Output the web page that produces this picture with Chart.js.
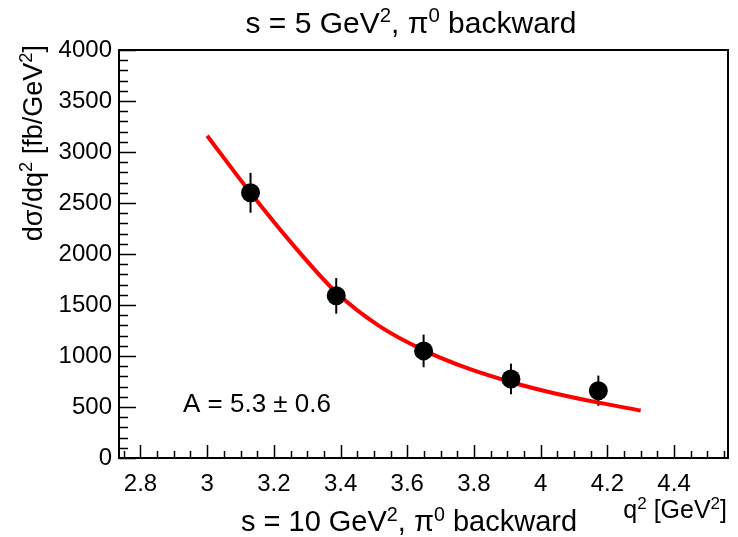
<!DOCTYPE html>
<html>
<head>
<meta charset="utf-8">
<script src="https://cdn.jsdelivr.net/npm/chart.js@4/dist/chart.umd.min.js"></script>
<style>
  html, body { margin: 0; padding: 0; background: #ffffff; }
  #wrap { width: 738px; height: 537px; }
</style>
</head>
<body>
<div id="wrap"><canvas id="c" width="738" height="537"></canvas></div>
<script>
// ---- data ----
const xTickValues = [2.8, 3, 3.2, 3.4, 3.6, 3.8, 4, 4.2, 4.4];
const xTickLabels = ['2.8', '3', '3.2', '3.4', '3.6', '3.8', '4', '4.2', '4.4'];
const yTickValues = [0, 500, 1000, 1500, 2000, 2500, 3000, 3500, 4000];
const yTickLabels = ['0', '500', '1000', '1500', '2000', '2500', '3000', '3500', '4000'];

const q2Points = [3.13, 3.387, 3.649, 3.911, 4.173];
const dsigmaPoints = [2600, 1590, 1050, 775, 660];
const dsigmaErrors = [195, 175, 160, 150, 148];

const fitQ2 = [3.0, 3.13, 3.26, 3.39, 3.52, 3.65, 3.78, 3.91, 4.04, 4.17, 4.3];
const fitValues = [3160, 2600, 2080, 1615, 1285, 1055, 880, 745, 635, 545, 465];

const xMin = 2.7356, xMax = 4.5618;
const yMin = 0, yMax = 4000;

const FONT = '"Liberation Sans", Arial, Helvetica, sans-serif';

function drawRich(ctx, parts, x, y, size, align) {
  const supSize = size * 0.68;
  let total = 0;
  const widths = parts.map(p => {
    ctx.font = (p.sup ? supSize : size) + 'px ' + FONT;
    const w = ctx.measureText(p.t).width;
    total += w;
    return w;
  });
  let cx = x;
  if (align === 'center') cx = x - total / 2;
  else if (align === 'right') cx = x - total;
  ctx.textAlign = 'left';
  ctx.textBaseline = 'alphabetic';
  parts.forEach((p, i) => {
    ctx.font = (p.sup ? supSize : size) + 'px ' + FONT;
    ctx.fillText(p.t, cx, p.sup ? y - size * 0.36 : y);
    cx += widths[i];
  });
}

const decorPlugin = {
  id: 'decor',
  beforeDatasetsDraw(chart) {
    const ctx = chart.ctx;
    const xs = chart.scales.x, ys = chart.scales.y;
    ctx.save();
    ctx.strokeStyle = '#000';
    ctx.lineWidth = 2;
    for (let i = 0; i < q2Points.length; i++) {
      const px = xs.getPixelForValue(q2Points[i]);
      ctx.beginPath();
      ctx.moveTo(px, ys.getPixelForValue(dsigmaPoints[i] - dsigmaErrors[i]));
      ctx.lineTo(px, ys.getPixelForValue(dsigmaPoints[i] + dsigmaErrors[i]));
      ctx.stroke();
    }
    ctx.restore();
  },
  afterDraw(chart) {
    const ctx = chart.ctx;
    const a = chart.chartArea;
    const xs = chart.scales.x, ys = chart.scales.y;
    ctx.save();
    // inward tick marks
    ctx.strokeStyle = '#000';
    ctx.lineWidth = 1.5;
    ctx.beginPath();
    for (let k = 0; k <= 40; k++) {
      const v = k * 100;
      const py = Math.round(ys.getPixelForValue(v)) + 0.5;
      const len = (k % 5 === 0) ? 17 : 9;
      ctx.moveTo(a.left, py);
      ctx.lineTo(a.left + len, py);
    }
    for (let k = 55; k <= 91; k++) {
      const v = k * 0.05;
      if (v < xMin || v > xMax) continue;
      const px = Math.round(xs.getPixelForValue(v)) + 0.5;
      const len = (k % 4 === 0) ? 13 : 7;
      ctx.moveTo(px, a.bottom);
      ctx.lineTo(px, a.bottom - len);
    }
    ctx.stroke();
    // frame
    ctx.lineWidth = 2;
    ctx.strokeRect(a.left, a.top, a.right - a.left, a.bottom - a.top);

    ctx.fillStyle = '#000';
    // title
    drawRich(ctx, [{t: 's = 5 GeV'}, {t: '2', sup: true}, {t: ', π'}, {t: '0', sup: true}, {t: ' backward'}], 411, 33, 30, 'center');
    // bottom label
    drawRich(ctx, [{t: 's = 10 GeV'}, {t: '2', sup: true}, {t: ', π'}, {t: '0', sup: true}, {t: ' backward'}], 409, 531, 29, 'center');
    // x axis title
    drawRich(ctx, [{t: 'q'}, {t: '2', sup: true}, {t: ' [GeV'}, {t: '2', sup: true}, {t: ']'}], 727, 518, 25, 'right');
    // annotation
    drawRich(ctx, [{t: 'A = 5.3 ± 0.6'}], 183, 412, 26, 'left');
    // y axis title (rotated)
    ctx.translate(42, 45);
    ctx.rotate(-Math.PI / 2);
    drawRich(ctx, [{t: 'dσ/dq'}, {t: '2', sup: true}, {t: ' [fb/GeV'}, {t: '2', sup: true}, {t: ']'}], 0, 0, 27, 'right');
    ctx.restore();
  }
};

new Chart(document.getElementById('c'), {
  type: 'scatter',
  data: {
    datasets: [
      {
        label: 'data',
        data: q2Points.map((x, i) => ({x: x, y: dsigmaPoints[i]})),
        pointRadius: 9.5,
        pointBackgroundColor: '#000',
        pointBorderWidth: 0,
        showLine: false
      },
      {
        label: 'fit',
        data: fitQ2.map((x, i) => ({x: x, y: fitValues[i]})),
        showLine: true,
        borderColor: '#ff0000',
        borderWidth: 4,
        pointRadius: 0,
        cubicInterpolationMode: 'monotone',
        fill: false
      }
    ]
  },
  options: {
    responsive: false,
    animation: false,
    devicePixelRatio: 1,
    layout: { padding: { left: 0, right: 10, top: 50, bottom: 0 } },
    plugins: { legend: { display: false }, tooltip: { enabled: false } },
    scales: {
      x: {
        type: 'linear',
        min: xMin, max: xMax,
        grid: { display: false, drawTicks: false },
        border: { display: false },
        afterBuildTicks: s => { s.ticks = xTickValues.map(v => ({value: v})); },
        afterFit: s => { s.height = 79; },
        ticks: {
          color: '#000',
          font: { family: FONT, size: 24 },
          padding: 12,
          maxRotation: 0,
          autoSkip: false,
          callback: (v, i) => xTickLabels[i]
        }
      },
      y: {
        type: 'linear',
        min: yMin, max: yMax,
        grid: { display: false, drawTicks: false },
        border: { display: false },
        afterBuildTicks: s => { s.ticks = yTickValues.map(v => ({value: v})); },
        afterFit: s => { s.width = 119; },
        ticks: {
          color: '#000',
          font: { family: FONT, size: 24 },
          padding: 7,
          autoSkip: false,
          callback: (v, i) => yTickLabels[i]
        }
      }
    }
  },
  plugins: [decorPlugin]
});
</script>
</body>
</html>
